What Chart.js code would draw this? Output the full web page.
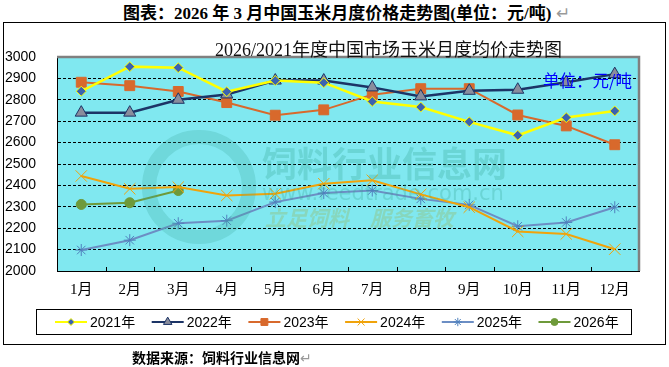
<!DOCTYPE html>
<html>
<head>
<meta charset="utf-8">
<script src="https://cdn.jsdelivr.net/npm/chart.js@4.4.1/dist/chart.umd.min.js"></script>
<style>
body { margin: 0; background: #fff; }
#wrap { position: relative; width: 669px; height: 367px; overflow: hidden; background: #fff; }
#wrap div { position: absolute; white-space: nowrap; }
#c { position: absolute; left: 0; top: 0; }
.head { left: 123px; top: -1px; font: bold 17px "Liberation Serif", "Noto Sans CJK SC"; color: #000; }
.ret { color: #999; font-weight: normal; }
.frame { left: 3px; top: 22px; width: 661px; height: 321px; border: 1px solid #000; }
.ctitle { left: 215px; top: 35px; font: 18px "Liberation Serif", "Noto Sans CJK SC"; color: #111; }
.unit { left: 543px; top: 68px; font: 16.5px "Noto Sans CJK SC"; color: #0000ff; }
.src { left: 132px; top: 347px; font: bold 14px "Noto Sans CJK SC"; color: #000; }
.ring { left: 142px; top: 130px; width: 86px; height: 86px; border-radius: 50%; border: 14px solid #3aa89a; opacity: 0.25; }
.wm1 { left: 262px; top: 136px; font: bold 35px "Noto Sans CJK SC"; color: #3aa89a; opacity: 0.3; }
.wm2 { left: 262px; top: 181px; font: 21px "DejaVu Sans"; color: #3aa89a; opacity: 0.3; }
.wm3 { left: 265px; top: 202px; font: italic bold 21px "Noto Sans CJK SC"; color: #9ab04a; opacity: 0.3; }
</style>
</head>
<body>
<div id="wrap">
  <div class="head">图表：2026 年 3 月中国玉米月度价格走势图(单位：元/吨) <span class="ret">↵</span></div>
  <div class="frame"></div>
  <canvas id="c" width="669" height="367"></canvas>
  <div class="ring"></div>
  <div class="wm1">饲料行业信息网</div>
  <div class="wm2">www.feedtrade.com.cn</div>
  <div class="wm3">立足饲料　服务畜牧</div>
  <div class="ctitle">2026/2021年度中国市场玉米月度均价走势图</div>
  <div class="unit">单位：元/吨</div>
  <div class="src">数据来源：饲料行业信息网<span class="ret">↵</span></div>
</div>
<script>
// 月份与各年度均价（元/吨）
const months = ['1月', '2月', '3月', '4月', '5月', '6月', '7月', '8月', '9月', '10月', '11月', '12月'];
const s2021 = [2840, 2955, 2950, 2838, 2890, 2880, 2792, 2766, 2697, 2634, 2717, 2748];
const s2022 = [2740, 2740, 2800, 2825, 2890, 2890, 2858, 2816, 2842, 2847, 2882, 2920];
const s2023 = [2882, 2866, 2839, 2787, 2728, 2753, 2824, 2852, 2852, 2729, 2678, 2590];
const s2024 = [2444, 2384, 2392, 2353, 2361, 2408, 2424, 2358, 2298, 2185, 2173, 2102];
const s2025 = [2098, 2144, 2223, 2235, 2322, 2364, 2376, 2337, 2309, 2209, 2227, 2298];
const s2026 = [2311, 2319, 2376, null, null, null, null, null, null, null, null, null];
const yMin = 2000, yMax = 3000, yStep = 100;

const datasets = [
    { label: '2021年', data: s2021, borderColor: '#ffff00', backgroundColor: '#3b62b0', pointBorderColor: '#ffff00',
      pointStyle: 'rectRot', pointRadius: 5, borderWidth: 2.5, pointBorderWidth: 1 },
    { label: '2022年', data: s2022, borderColor: '#1c3466', backgroundColor: '#8a8d9c', pointBorderColor: '#1c3466',
      pointStyle: 'triangle', pointRadius: 7, borderWidth: 2.5, pointBorderWidth: 1 },
    { label: '2023年', data: s2023, borderColor: '#d8692c', backgroundColor: '#d8692c', pointBorderColor: '#d8692c',
      pointStyle: 'rect', pointRadius: 7, borderWidth: 2, pointBorderWidth: 1 },
    { label: '2024年', data: s2024, borderColor: '#f0a30a', backgroundColor: '#f0a30a', pointBorderColor: '#f0a30a',
      pointStyle: 'crossRot', pointRadius: 8, borderWidth: 2, pointBorderWidth: 1 },
    { label: '2025年', data: s2025, borderColor: '#6c8ec4', backgroundColor: '#4f81bd', pointBorderColor: '#4f81bd',
      pointStyle: 'star', pointRadius: 6, borderWidth: 2, pointBorderWidth: 1 },
    { label: '2026年', data: s2026, borderColor: '#6e9a3a', backgroundColor: '#6e9a3a', pointBorderColor: '#6e9a3a',
      pointStyle: 'circle', pointRadius: 5, borderWidth: 2, pointBorderWidth: 1 }
];

function drawMarker(ctx, ds, x, y, r) {
    ctx.save();
    ctx.fillStyle = ds.backgroundColor;
    ctx.strokeStyle = ds.pointBorderColor;
    ctx.lineWidth = ds.pointBorderWidth;
    Chart.helpers.drawPoint(ctx, { pointStyle: ds.pointStyle, radius: r, rotation: 0, borderWidth: ds.pointBorderWidth }, x, y);
    ctx.restore();
}

// 绘图区底色、上/右灰色边框、底轴内侧刻度
const plotBox = {
    id: 'plotBox',
    beforeDraw(chart) {
        const a = chart.chartArea, ctx = chart.ctx;
        ctx.save();
        ctx.fillStyle = '#80e8f0';
        ctx.fillRect(a.left, a.top, a.right - a.left, a.bottom - a.top);
        ctx.restore();
    },
    beforeDatasetsDraw(chart) {
        const a = chart.chartArea, ctx = chart.ctx, xs = chart.scales.x;
        ctx.save();
        ctx.strokeStyle = '#808080';
        ctx.lineWidth = 2.5;
        ctx.beginPath();
        ctx.moveTo(a.left, a.top);
        ctx.lineTo(a.right, a.top);
        ctx.lineTo(a.right, a.bottom);
        ctx.stroke();
        ctx.strokeStyle = '#000';
        ctx.lineWidth = 1;
        ctx.beginPath();
        for (let i = 1; i < months.length; i++) {
            const x = Math.round(xs.getPixelForValue(i - 0.5)) + 0.5;
            ctx.moveTo(x, a.bottom);
            ctx.lineTo(x, a.bottom - 4);
        }
        ctx.stroke();
        ctx.restore();
    }
};

// 图例
const legendBox = {
    id: 'legendBox',
    afterDraw(chart) {
        const ctx = chart.ctx;
        ctx.save();
        ctx.fillStyle = '#fff';
        ctx.fillRect(36.5, 309.5, 595, 25);
        ctx.strokeStyle = '#000';
        ctx.lineWidth = 1;
        ctx.strokeRect(36.5, 309.5, 595, 25);
        ctx.font = '14px "Liberation Sans", "Noto Sans CJK SC"';
        ctx.textAlign = 'left';
        ctx.textBaseline = 'middle';
        chart.data.datasets.forEach((ds, i) => {
            const x0 = 55 + i * 96.7, y = 322;
            ctx.strokeStyle = ds.borderColor;
            ctx.lineWidth = 2;
            ctx.beginPath();
            ctx.moveTo(x0, y);
            ctx.lineTo(x0 + 32, y);
            ctx.stroke();
            drawMarker(ctx, ds, x0 + 16, y, Math.min(ds.pointRadius, 7) * 0.7);
            ctx.fillStyle = '#000';
            ctx.fillText(ds.label, x0 + 35, y + 1);
        });
        ctx.restore();
    }
};

new Chart(document.getElementById('c'), {
    type: 'line',
    data: { labels: months, datasets: datasets },
    options: {
        responsive: false,
        animation: false,
        layout: { padding: { left: 5, top: 57, right: 30, bottom: 71 } },
        plugins: { legend: { display: false }, tooltip: { enabled: false } },
        elements: { line: { tension: 0 } },
        scales: {
            x: {
                offset: true,
                grid: { display: false, offset: true, drawTicks: false, tickLength: 0 },
                border: { display: true, color: '#000', width: 1 },
                ticks: {
                    autoSkip: false,
                    maxRotation: 0,
                    padding: 10,
                    color: '#000',
                    font: { family: '"Liberation Serif", "Noto Sans CJK SC"', size: 15, lineHeight: 1.2 }
                },
                afterFit: s => { s.height = 25; }
            },
            y: {
                min: yMin,
                max: yMax,
                ticks: {
                    stepSize: yStep,
                    autoSkip: false,
                    crossAlign: 'far',
                    color: '#000',
                    font: { family: '"Liberation Sans", Arial', size: 14 },
                    callback: v => String(v)
                },
                grid: { color: '#000', drawTicks: false, lineWidth: 1 },
                border: { color: '#000', width: 1, dash: [3, 2] },
                afterFit: s => { s.width = 52; }
            }
        }
    },
    plugins: [plotBox, legendBox]
});
</script>
</body>
</html>
